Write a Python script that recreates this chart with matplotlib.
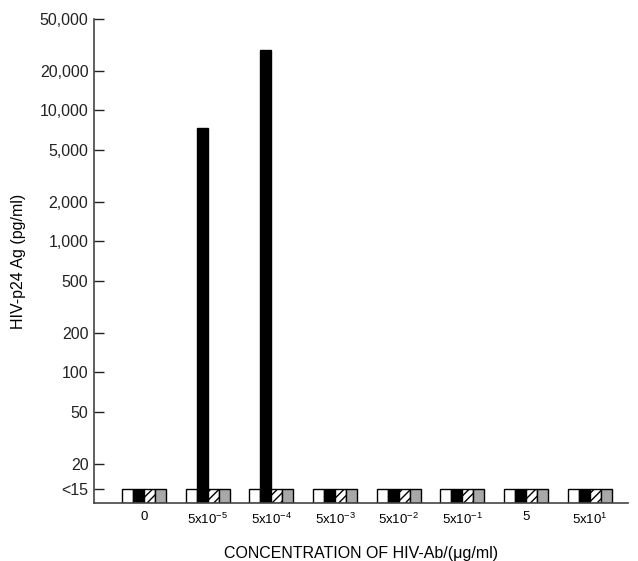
import matplotlib
matplotlib.use("Agg")
import matplotlib.pyplot as plt
import numpy as np

plt.rcParams["font.family"] = ["Liberation Sans", "DejaVu Sans"]
plt.rcParams["hatch.linewidth"] = 1.0
plt.rcParams["mathtext.fontset"] = "custom"
plt.rcParams["mathtext.rm"] = "Liberation Sans"

# data: p24 antigen per HIV-Ab concentration, four conditions per group
conc_labels = ["0", r"5x10$^{-5}$", r"5x10$^{-4}$", r"5x10$^{-3}$",
               r"5x10$^{-2}$", r"5x10$^{-1}$", "5", r"5x10$^{1}$"]
DETECT = 12.7  # plotted height of the "<15" (below detection) level
white_vals = [DETECT] * 8
black_vals = [DETECT, 7300, 29000, DETECT, DETECT, DETECT, DETECT, DETECT]
hatch_vals = [DETECT] * 8
gray_vals = [DETECT] * 8

ytick_vals = [DETECT, 20, 50, 100, 200, 500, 1000, 2000, 5000, 10000, 20000, 50000]
ytick_labels = ["<15", "20", "50", "100", "200", "500", "1,000", "2,000",
                "5,000", "10,000", "20,000", "50,000"]

YMIN = 10

fig = plt.figure(figsize=(6.38, 5.61), dpi=100)
ax = fig.add_axes([94 / 638, 1 - 503 / 561, (628 - 94) / 638, (503 - 19) / 561])

x = np.arange(len(conc_labels))
w = 0.173
styles = [
    (white_vals, "white", None),
    (black_vals, "black", None),
    (hatch_vals, "white", "////"),
    (gray_vals, "#a8a8a8", None),
]
for k, (vals, color, hatch) in enumerate(styles):
    heights = np.array(vals) - YMIN
    ax.bar(x + (k - 1.5) * w, heights, width=w, bottom=YMIN, color=color,
           edgecolor="black", linewidth=1.0, hatch=hatch, zorder=2)

ax.set_yscale("log")
ax.set_ylim(YMIN, 50000)
ax.set_xlim(-0.785, 7.6)
ax.set_yticks(ytick_vals)
ax.set_yticklabels(ytick_labels, fontsize=11.5)
ax.yaxis.set_minor_locator(matplotlib.ticker.NullLocator())
ax.tick_params(axis="y", direction="in", length=7, width=1, pad=4, colors="#222222")
ax.set_xticks(x)
ax.set_xticklabels(conc_labels, fontsize=9.5)
ax.tick_params(axis="x", length=0, pad=6)

for side in ["top", "right"]:
    ax.spines[side].set_visible(False)
for side in ["left", "bottom"]:
    ax.spines[side].set_color("#444444")
    ax.spines[side].set_linewidth(1.2)

ax.set_ylabel("HIV-p24 Ag (pg/ml)", fontsize=11.5, labelpad=10)
ax.set_xlabel("CONCENTRATION OF HIV-Ab/(\u03bcg/ml)", fontsize=11.5, labelpad=14)

fig.savefig("out.png", dpi=100)
